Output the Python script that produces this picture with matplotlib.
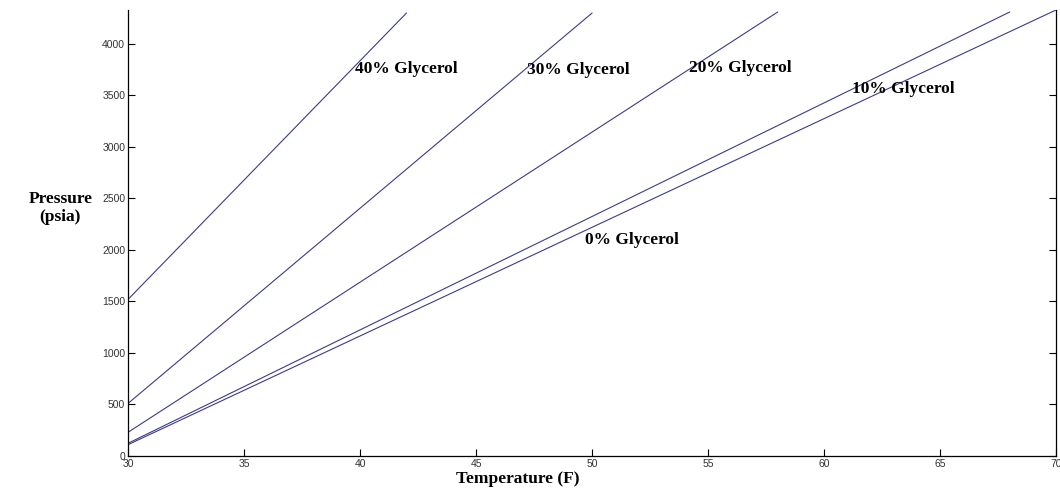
import matplotlib.pyplot as plt

# ---------- Data ----------
temp_0 = [30, 50, 70]
p_0 = [110, 2220, 4330]

temp_10 = [30, 50, 68]
p_10 = [123, 2325, 4310]

temp_20 = [30, 44, 58]
p_20 = [230, 2270, 4310]

temp_30 = [30, 40, 50]
p_30 = [510, 2405, 4300]

temp_40 = [30, 36, 42]
p_40 = [1520, 2910, 4300]

series = [
    (temp_0, p_0, "0% Glycerol", 49.7, 2100),
    (temp_10, p_10, "10% Glycerol", 61.2, 3565),
    (temp_20, p_20, "20% Glycerol", 54.2, 3765),
    (temp_30, p_30, "30% Glycerol", 47.2, 3745),
    (temp_40, p_40, "40% Glycerol", 39.8, 3760),
]

x_ticks = [30, 35, 40, 45, 50, 55, 60, 65, 70]
y_ticks = [0, 500, 1000, 1500, 2000, 2500, 3000, 3500, 4000]

LINE_COLOR = "#3b3b8c"
SERIF = ["Liberation Serif", "DejaVu Serif"]

# ---------- Plot ----------
fig = plt.figure(figsize=(10.6, 4.93), dpi=100)
ax = fig.add_axes([128 / 1060, 1 - 456 / 493, 928 / 1060, 446 / 493])

for t, p, label, lx, ly in series:
    ax.plot(t, p, color=LINE_COLOR, linewidth=0.8)
    ax.text(lx, ly, label, fontsize=12.5, fontweight="bold", family=SERIF,
            ha="left", va="center")

ax.set_xlim(30, 70)
ax.set_ylim(0, 4330)
ax.set_xticks(x_ticks)
ax.set_yticks(y_ticks)

ax.spines["top"].set_visible(False)
for s in ["left", "bottom", "right"]:
    ax.spines[s].set_linewidth(0.9)
ax.tick_params(direction="in", length=5, width=0.8, labelsize=7.5,
               labelcolor="#333333", right=True, pad=2)
for lab in ax.get_xticklabels() + ax.get_yticklabels():
    lab.set_family(["Liberation Sans Narrow", "Liberation Sans", "DejaVu Sans"])

ax.set_xlabel("Temperature (F)", fontsize=12.5, fontweight="bold", family=SERIF,
              va="center")
ax.xaxis.set_label_coords(0.42, -0.052)
ax.set_ylabel("Pressure\n(psia)", fontsize=12.5, fontweight="bold", family=SERIF,
              rotation=0, ha="center", va="center")
ax.yaxis.set_label_coords(-0.073, 0.556)

fig.savefig("out.png", dpi=100)
